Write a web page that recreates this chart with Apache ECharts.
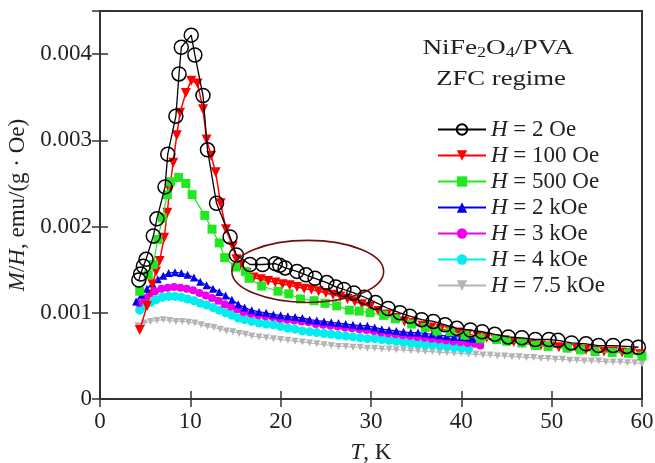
<!DOCTYPE html>
<html><head><meta charset="utf-8">
<script src="https://cdn.jsdelivr.net/npm/echarts@6/dist/echarts.min.js"></script>
<style>html,body{margin:0;padding:0;background:#fff}#c{width:655px;height:463px}</style>
</head><body><div id="c"></div>
<script>
// ---- data (T in K, M/H in emu/(g·Oe)) ----
const seriesNames = ['H = 2 Oe','H = 100 Oe','H = 500 Oe','H = 2 kOe','H = 3 kOe','H = 4 kOe','H = 7.5 kOe'];
const xTickValues = [0,10,20,30,40,50,60];
const yTickValues = [0,0.001,0.002,0.003,0.004];

const tH2 = [4.3,4.5,4.8,5.1,5.9,6.3,7.2,7.5,8.4,8.75,9.0,10.1,10.5,11.4,11.9,12.9,14.4,15.1,16.6,18.0,19.4,19.9,20.5,21.8,22.8,23.8,25.1,26.1,27.0,28.1,29.3,30.5,31.9,33.2,34.3,35.6,36.9,38.2,39.5,41.0,42.3,43.7,45.2,46.7,48.2,49.7,50.7,52.2,53.8,55.2,56.8,58.3,59.6];
const vH2 = [0.00138,0.00145,0.00154,0.00162,0.00189,0.00209,0.00246,0.00284,0.00328,0.00377,0.00408,0.00422,0.00399,0.00352,0.00289,0.00227,0.00188,0.00167,0.00156,0.00156,0.00157,0.00155,0.00152,0.00148,0.00144,0.00140,0.00135,0.00130,0.00127,0.00123,0.00118,0.00112,0.00105,0.00100,0.00096,0.00092,0.00090,0.00086,0.00082,0.00080,0.00078,0.00075,0.00072,0.00071,0.00069,0.00069,0.00068,0.00065,0.00064,0.00062,0.00062,0.00061,0.00060];

const tH100 = [4.4,5.2,5.8,6.2,6.6,7.1,7.45,7.7,8.1,8.5,8.86,9.5,10.1,10.8,11.4,11.8,12.3,12.8,13.35,13.95,14.7,15.1,15.6,16.2,17.0,17.8,18.6,19.4,20.2,21.0,21.8,22.6,23.4,24.2,25.0,25.8,26.6,27.4,28.2,29.0,29.9,30.8,31.8,32.8,33.7,34.7,35.7,36.7,37.7,38.7,39.7,40.7,41.8,42.8,43.8,44.8,45.8,46.8,47.8,48.8,49.8,50.8,51.8,52.8,53.8,54.8,55.8,56.8,57.8,58.8,59.8];
const vH100 = [0.00080,0.00108,0.00133,0.00148,0.00160,0.00187,0.00216,0.00243,0.00274,0.00306,0.00332,0.00355,0.00369,0.00366,0.00336,0.00301,0.00282,0.00263,0.00227,0.00197,0.00177,0.00162,0.00155,0.00146,0.00141,0.00139,0.00137,0.00135,0.00133,0.00132,0.00130,0.00128,0.00127,0.00125,0.00123,0.00121,0.00119,0.00116,0.00113,0.00110,0.00107,0.00102,0.00098,0.00094,0.00090,0.00088,0.00085,0.00083,0.00081,0.00079,0.00077,0.00075,0.00073,0.00071,0.00069,0.00068,0.00066,0.00065,0.00063,0.00062,0.00061,0.00060,0.00059,0.00058,0.00057,0.00056,0.00055,0.00055,0.00054,0.00053,0.00052];

const tH500 = [4.4,5.35,5.9,6.4,6.9,7.45,7.8,8.7,9.5,10.2,11.6,12.4,13.2,13.8,15.0,16.1,16.5,17.9,19.7,20.9,22.2,23.7,24.9,26.2,27.6,28.7,29.9,31.4,32.7,34.5,36.0,37.3,38.8,40.4,42.1,43.9,45.0,46.7,48.2,49.6,51.7,53.2,54.8,56.7,58.5,60.0];
const vH500 = [0.00125,0.00144,0.00156,0.00185,0.00210,0.00237,0.00252,0.00257,0.00250,0.00237,0.00213,0.00197,0.00181,0.00164,0.00153,0.00148,0.00140,0.00131,0.00125,0.00122,0.00116,0.00114,0.00111,0.00108,0.00103,0.00102,0.00100,0.00097,0.00093,0.00087,0.00083,0.00079,0.00078,0.00074,0.00070,0.00069,0.00067,0.00065,0.00062,0.00061,0.00059,0.00057,0.00055,0.00054,0.00053,0.00050];

const tH2k = [4.0,4.6,5.2,5.8,6.4,7.0,7.6,8.3,9.0,9.7,10.4,11.1,11.8,12.5,13.2,13.9,14.6,15.3,16.0,16.8,17.6,18.4,19.2,20.0,20.8,21.6,22.4,23.2,24.0,24.8,25.6,26.4,27.2,28.0,28.8,29.6,30.4,31.2,32.0,32.8,33.6,34.4,35.2,36.0,36.8,37.6,38.4,39.2,40.0,40.8,41.3];
const vH2k = [0.00113,0.00121,0.00128,0.00134,0.00139,0.00143,0.00146,0.00147,0.00146,0.00144,0.00141,0.00136,0.00132,0.00128,0.00124,0.00120,0.00115,0.00110,0.00106,0.00103,0.00101,0.00100,0.00098,0.00097,0.00096,0.00095,0.00094,0.00092,0.00091,0.00090,0.00089,0.00088,0.00087,0.00086,0.00085,0.00085,0.00083,0.00081,0.00080,0.00079,0.00078,0.00077,0.00077,0.00076,0.00075,0.00074,0.00073,0.00072,0.00072,0.00071,0.00070];

const tH3k = [4.3,4.9,5.5,6.1,6.8,7.5,8.2,8.9,9.6,10.3,11.0,11.7,12.4,13.1,13.8,14.5,15.2,15.9,16.7,17.5,18.3,19.1,19.9,20.7,21.5,22.3,23.1,23.9,24.7,25.5,26.3,27.1,27.9,28.7,29.5,30.3,31.1,31.9,32.7,33.5,34.3,35.1,35.9,36.7,37.5,38.3,39.1,39.9,40.7,41.5,42.1];
const vH3k = [0.00111,0.00117,0.00122,0.00125,0.00128,0.00129,0.00130,0.00129,0.00128,0.00126,0.00123,0.00120,0.00117,0.00114,0.00110,0.00107,0.00104,0.00101,0.00099,0.00097,0.00096,0.00095,0.00093,0.00092,0.00091,0.00090,0.00089,0.00087,0.00086,0.00085,0.00084,0.00083,0.00082,0.00081,0.00080,0.00079,0.00077,0.00076,0.00075,0.00074,0.00073,0.00072,0.00071,0.00070,0.00069,0.00068,0.00067,0.00066,0.00065,0.00064,0.00062];

const tH4k = [4.4,5.0,5.6,6.2,6.9,7.6,8.3,9.0,9.7,10.4,11.1,11.8,12.5,13.2,13.9,14.6,15.3,16.0,16.8,17.6,18.4,19.2,20.0,20.8,21.6,22.4,23.2,24.0,24.8,25.6,26.4,27.2,28.0,28.8,29.6,30.4,31.2,32.0,32.8,33.6,34.4,35.2,36.0,36.8,37.6,38.4,39.2,40.0,40.8];
const vH4k = [0.00103,0.00108,0.00112,0.00115,0.00118,0.00119,0.00119,0.00118,0.00116,0.00114,0.00111,0.00109,0.00106,0.00103,0.00100,0.00097,0.00094,0.00092,0.00090,0.00088,0.00087,0.00086,0.00084,0.00082,0.00081,0.00079,0.00078,0.00077,0.00076,0.00075,0.00074,0.00073,0.00072,0.00071,0.00070,0.00070,0.00069,0.00068,0.00067,0.00066,0.00065,0.00064,0.00063,0.00063,0.00062,0.00061,0.00060,0.00059,0.00058];

const tH75k = [4.2,4.9,5.6,6.3,7.0,7.7,8.4,9.1,9.8,10.5,11.2,11.9,12.6,13.3,14.0,14.7,15.4,16.1,16.8,17.6,18.4,19.2,20.0,20.8,21.6,22.4,23.2,24.0,24.8,25.6,26.4,27.2,28.0,28.8,29.6,30.4,31.2,32.0,32.8,33.6,34.4,35.2,36.0,36.8,37.6,38.4,39.2,40.0,40.8,41.6,42.4,43.2,44.0,44.8,45.6,46.4,47.2,48.0,48.8,49.6,50.4,51.2,52.0,52.8,53.6,54.4,55.2,56.0,56.8,57.6,58.4,59.2,60.0];
const vH75k = [0.00085,0.00088,0.00090,0.00091,0.00092,0.00091,0.00090,0.00090,0.00089,0.00088,0.00086,0.00084,0.00083,0.00081,0.00079,0.00078,0.00076,0.00075,0.00073,0.00072,0.00071,0.00070,0.00069,0.00068,0.00067,0.00066,0.00065,0.00064,0.00063,0.00062,0.00061,0.00061,0.00060,0.00060,0.00059,0.00059,0.00058,0.00058,0.00057,0.00057,0.00056,0.00056,0.00055,0.00055,0.00054,0.00054,0.00053,0.00053,0.00052,0.00052,0.00051,0.00051,0.00050,0.00050,0.00049,0.00049,0.00048,0.00048,0.00047,0.00047,0.00046,0.00046,0.00045,0.00045,0.00044,0.00044,0.00044,0.00043,0.00043,0.00043,0.00042,0.00042,0.00041];

// annotation ellipse (data coordinates)
const ellipseCenter = [23.0, 0.00148];
const ellipseRadii = [8.4, 0.00036];

// ---- chart ----
const FONT = '"Liberation Serif", "DejaVu Serif", serif';
const TXT = '#222';
const AX = '#333';
const FS = 23;
const zip = (t, v) => t.map((x, i) => [x, v[i]]);

const styles = {
  'H = 2 Oe':    {color:'#000000', symbol:'circle', hollow:true, size:14, rot:0, lw:1.3, z:7},
  'H = 100 Oe':  {color:'#ff0000', symbol:'triangle', size:10, rot:180, lw:1.5, z:5},
  'H = 500 Oe':  {color:'#22e822', symbol:'rect', size:9, rot:0, lw:1.2, z:6},
  'H = 2 kOe':   {color:'#0000ee', symbol:'triangle', size:8, rot:0, lw:1.2, z:4},
  'H = 3 kOe':   {color:'#ee00ee', symbol:'circle', size:8, rot:0, lw:1.2, z:3},
  'H = 4 kOe':   {color:'#00eeee', symbol:'circle', size:9, rot:0, lw:1.2, z:2},
  'H = 7.5 kOe': {color:'#b4b4b4', symbol:'triangle', size:7, rot:180, lw:1.0, z:1}
};
const dataMap = {
  'H = 2 Oe': zip(tH2, vH2),
  'H = 100 Oe': zip(tH100, vH100),
  'H = 500 Oe': zip(tH500, vH500),
  'H = 2 kOe': zip(tH2k, vH2k),
  'H = 3 kOe': zip(tH3k, vH3k),
  'H = 4 kOe': zip(tH4k, vH4k),
  'H = 7.5 kOe': zip(tH75k, vH75k)
};
const drawOrder = ['H = 7.5 kOe','H = 4 kOe','H = 3 kOe','H = 2 kOe','H = 100 Oe','H = 500 Oe','H = 2 Oe'];

const series = drawOrder.map(name => {
  const s = styles[name];
  return {
    name, type:'line', data: dataMap[name], xAxisIndex:0, yAxisIndex:0,
    symbol: s.symbol, symbolSize: s.size, symbolRotate: s.rot,
    showAllSymbol: true, animation:false, z: s.z,
    lineStyle:{color:s.color, width:s.lw},
    itemStyle: s.hollow
      ? {color:'rgba(255,255,255,0)', borderColor:s.color, borderWidth:1.5}
      : {color:s.color, borderWidth:0},
    emphasis:{disabled:true}
  };
});

const chart = echarts.init(document.getElementById('c'), null, {renderer:'canvas'});
const tickStyle = {inside:true, length:8, lineStyle:{color:AX, width:1.5}};
const italicRich = {i:{fontStyle:'italic', fontFamily:FONT, fontSize:FS, color:TXT}};
const option = {
  backgroundColor:'#fff',
  animation:false,
  grid:{left:100, right:13, top:11, bottom:64, containLabel:false, outerBoundsMode:'none',
        show:true, borderColor:AX, borderWidth:2, backgroundColor:'transparent'},
  xAxis:[{
    type:'value', min:0, max:60, interval:10,
    axisLine:{show:true, lineStyle:{color:AX, width:2}},
    axisTick:tickStyle,
    splitLine:{show:false},
    axisLabel:{color:TXT, fontFamily:FONT, fontSize:FS, margin:11,
      formatter: v => xTickValues.includes(v) ? String(v) : ''},
    name:'{i|T}, K', nameLocation:'middle', nameGap:42,
    nameTextStyle:{color:TXT, fontFamily:FONT, fontSize:FS, rich:italicRich}
  },{
    type:'value', min:0, max:60, interval:10, position:'top',
    axisLine:{show:true, lineStyle:{color:AX, width:2}},
    axisTick:tickStyle, axisLabel:{show:false}, splitLine:{show:false}
  }],
  yAxis:[{
    type:'value', min:0, max:0.0045, interval:0.001,
    axisLine:{show:true, lineStyle:{color:AX, width:2}},
    axisTick:tickStyle,
    splitLine:{show:false},
    axisLabel:{color:TXT, fontFamily:FONT, fontSize:FS, margin:8,
      formatter: v => { const k = yTickValues.findIndex(t => Math.abs(t - v) < 1e-9); return k < 0 ? '' : (k === 0 ? '0' : yTickValues[k].toFixed(3)); }},
    name:'{i|M}/{i|H}, emu/(g · Oe)', nameLocation:'middle', nameGap:68,
    nameTextStyle:{color:TXT, fontFamily:FONT, fontSize:FS, rich:italicRich}
  },{
    type:'value', min:0, max:0.0045, interval:0.001, position:'right',
    axisLine:{show:true, lineStyle:{color:AX, width:2}},
    axisTick:tickStyle, axisLabel:{show:false}, splitLine:{show:false}
  }],
  legend:{
    orient:'vertical', left:432, top:113, selectedMode:false,
    itemWidth:48, itemHeight:13, itemGap:3,
    data: seriesNames,
    formatter: n => '{i|H}' + n.slice(1),
    textStyle:{color:TXT, fontFamily:FONT, fontSize:FS, lineHeight:22,
      rich:{i:{fontStyle:'italic', fontFamily:FONT, fontSize:FS, color:TXT, lineHeight:22}}}
  },
  series
};
chart.setOption(option);

const c = chart.convertToPixel({gridIndex:0}, ellipseCenter);
const e = chart.convertToPixel({gridIndex:0}, [ellipseCenter[0] + ellipseRadii[0], ellipseCenter[1] + ellipseRadii[1]]);
chart.setOption({
  graphic:[
    {type:'ellipse', shape:{cx:c[0], cy:c[1], rx:Math.abs(e[0]-c[0]), ry:Math.abs(c[1]-e[1])},
     style:{fill:null, stroke:'#6e1010', lineWidth:1.6}, z:100, silent:true},
    {type:'text', x:498, y:48, scaleX:1.3, style:{text:'NiFe{s|2}O{s|4}/PVA', align:'center', verticalAlign:'middle', fill:TXT,
      font:'21px ' + FONT, rich:{s:{fontSize:14, fontFamily:FONT, fill:TXT, padding:[10,0,0,0]}}}, z:100},
    {type:'text', x:501, y:79, scaleX:1.27, style:{text:'ZFC regime', align:'center', verticalAlign:'middle', fill:TXT, font:'21px ' + FONT}, z:100}
  ]
});
</script></body></html>
